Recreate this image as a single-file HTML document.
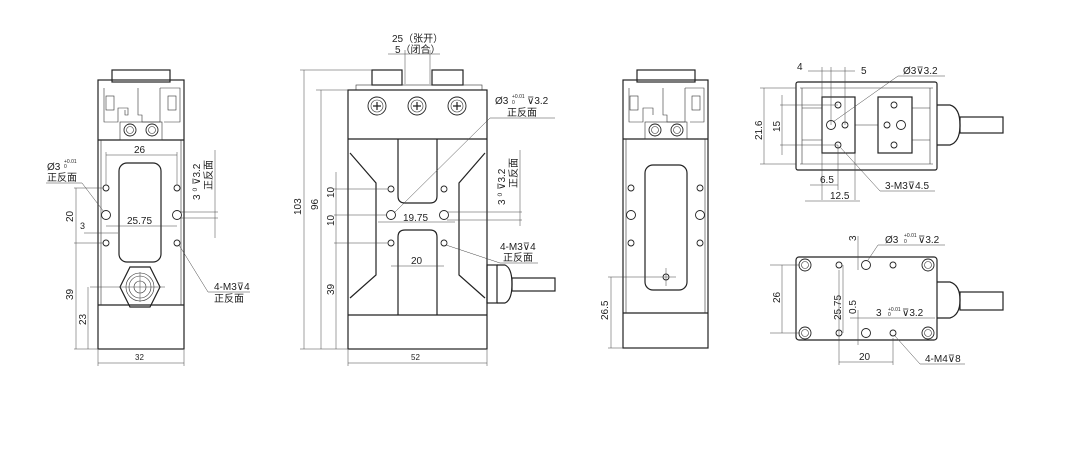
<!DOCTYPE html>
<html><head><meta charset="utf-8"><style>
html,body{margin:0;padding:0;background:#fff}
svg{display:block}
text{font-family:"Liberation Sans","Noto Sans CJK SC",sans-serif;font-size:10px;fill:#222}
.b{fill:none;stroke:#222;stroke-width:1.2}
.t{fill:none;stroke:#333;stroke-width:0.6}
.d{fill:none;stroke:#444;stroke-width:0.5}
.h{fill:#fff;stroke:#222;stroke-width:0.9}
</style></head><body>
<svg width="1068" height="476" viewBox="0 0 1068 476" xmlns="http://www.w3.org/2000/svg">
<rect width="1068" height="476" fill="#fff"/>

<!-- ===== VIEW 1 ===== -->
<g>
<rect class="b" x="112" y="70" width="58" height="12"/>
<rect class="b" x="98" y="80" width="86" height="269"/>
<line class="b" x1="98" y1="140" x2="184" y2="140"/>
<line class="b" x1="98" y1="305" x2="184" y2="305"/>
<line class="t" x1="101" y1="140" x2="101" y2="305"/><line class="t" x1="181" y1="140" x2="181" y2="305"/>
<path class="t" d="M104 88 V122 H118 V108 H128 V115 H125 V110 M138 88 V115 H142 V122 H160 V88 M160 88 H180 V122 H164"/>
<rect class="t" x="106" y="96" width="8" height="14"/><rect class="t" x="168" y="96" width="8" height="14"/>
<rect class="t" x="120" y="122" width="42" height="18"/>
<circle class="h" cx="130" cy="130" r="6"/><circle class="h" cx="152" cy="130" r="6"/>
<circle class="t" cx="130" cy="130" r="3.5"/><circle class="t" cx="152" cy="130" r="3.5"/>
<rect class="b" x="119" y="163" width="42" height="99" rx="8"/>
<circle class="h" cx="106" cy="188" r="3"/><circle class="h" cx="177" cy="188" r="3"/>
<circle class="h" cx="106" cy="215" r="4.5"/><circle class="h" cx="177" cy="215" r="4.5"/>
<circle class="h" cx="106" cy="243" r="3"/><circle class="h" cx="177" cy="243" r="3"/>
<polygon class="b" points="130,267 150,267 160,287 150,307 130,307 120,287"/>
<circle class="t" cx="140" cy="287" r="14"/><circle class="t" cx="140" cy="287" r="11"/>
<circle class="t" cx="140" cy="287" r="6"/>
<line class="d" x1="90" y1="287" x2="165" y2="287"/><line class="d" x1="140" y1="272" x2="140" y2="302"/>
<!-- dims -->
<line class="d" x1="106" y1="155" x2="177" y2="155"/><line class="d" x1="106" y1="152" x2="106" y2="185"/><line class="d" x1="177" y1="152" x2="177" y2="185"/>
<text x="134" y="153">26</text>
<line class="d" x1="106" y1="226" x2="177" y2="226"/><text x="127" y="224">25.75</text>
<text x="80" y="229" style="font-size:9px">3</text><line class="d" x1="84" y1="233" x2="118" y2="233"/>
<line class="d" x1="74" y1="188" x2="104" y2="188"/><line class="d" x1="74" y1="243" x2="104" y2="243"/><line class="d" x1="74" y1="349" x2="98" y2="349"/>
<line class="d" x1="76" y1="188" x2="76" y2="349"/>
<line class="d" x1="88" y1="287" x2="88" y2="349"/>
<text transform="translate(73,222) rotate(-90)">20</text>
<text transform="translate(73,300) rotate(-90)">39</text>
<text transform="translate(86,325) rotate(-90)">23</text>
<line class="d" x1="98" y1="350" x2="98" y2="366"/><line class="d" x1="184" y1="350" x2="184" y2="366"/>
<line class="d" x1="98" y1="363" x2="184" y2="363"/><text x="135" y="360" style="font-size:8px">32</text>
<text x="47" y="170">Ø3</text><text x="64" y="163" style="font-size:5px">+0.01</text><text x="64" y="168" style="font-size:5px">0</text>
<text x="47" y="181">正反面</text><line class="d" x1="46" y1="183" x2="82" y2="183"/><line class="d" x1="82" y1="183" x2="104" y2="212"/>
<line class="d" x1="215" y1="150" x2="215" y2="238"/><line class="d" x1="181" y1="212" x2="218" y2="212"/><line class="d" x1="181" y1="218" x2="218" y2="218"/>
<text transform="translate(200,200) rotate(-90)">3 ⁰ ⊽3.2</text>
<text transform="translate(212,190) rotate(-90)">正反面</text>
<line class="d" x1="179" y1="245" x2="208" y2="292"/><line class="d" x1="208" y1="292" x2="250" y2="292"/>
<text x="214" y="290">4-M3⊽4</text><text x="214" y="302">正反面</text>
</g>

<!-- ===== VIEW 2 ===== -->
<g>
<rect class="b" x="372" y="70" width="30" height="15"/><rect class="b" x="432" y="70" width="31" height="15"/>
<rect class="t" x="356" y="85" width="126" height="5"/>
<rect class="b" x="348" y="90" width="139" height="259"/>
<line class="b" x1="348" y1="139" x2="487" y2="139"/>
<line class="b" x1="348" y1="315" x2="487" y2="315"/>
<g><circle class="h" cx="377" cy="106" r="9"/><circle class="t" cx="377" cy="106" r="6"/><path class="b" d="M373 106h8M377 102v8"/></g>
<g><circle class="h" cx="417" cy="106" r="9"/><circle class="t" cx="417" cy="106" r="6"/><path class="b" d="M413 106h8M417 102v8"/></g>
<g><circle class="h" cx="457" cy="106" r="9"/><circle class="t" cx="457" cy="106" r="6"/><path class="b" d="M453 106h8M457 102v8"/></g>
<polyline class="b" points="350,153 376,183 376,275 350,298"/>
<polyline class="b" points="485,153 459,183 459,275 485,298"/>
<path class="b" d="M398 139 V196 Q398 203 405 203 H430 Q437 203 437 196 V139"/>
<path class="b" d="M398 315 V237 Q398 230 405 230 H430 Q437 230 437 237 V315"/>
<circle class="h" cx="391" cy="189" r="3"/><circle class="h" cx="444" cy="189" r="3"/>
<circle class="h" cx="391" cy="215" r="4.5"/><circle class="h" cx="444" cy="215" r="4.5"/>
<circle class="h" cx="391" cy="243" r="3"/><circle class="h" cx="444" cy="243" r="3"/>
<rect class="b" x="487" y="265" width="10" height="38"/>
<path class="b" d="M497 265 H505 Q512 268 512 284 Q512 300 505 303 H497"/>
<rect class="b" x="512" y="278" width="43" height="13"/>
<!-- dims -->
<text x="392" y="42">25（张开）</text><text x="395" y="53">5（闭合）</text>
<line class="d" x1="388" y1="54" x2="440" y2="54"/><line class="d" x1="405" y1="50" x2="405" y2="84"/><line class="d" x1="430" y1="50" x2="430" y2="84"/>
<line class="d" x1="300" y1="70" x2="372" y2="70"/><line class="d" x1="300" y1="349" x2="348" y2="349"/><line class="d" x1="316" y1="90" x2="348" y2="90"/>
<line class="d" x1="304" y1="70" x2="304" y2="349"/><line class="d" x1="321" y1="90" x2="321" y2="349"/>
<line class="d" x1="336" y1="172" x2="336" y2="349"/>
<text transform="translate(301,215) rotate(-90)">103</text>
<text transform="translate(318,210) rotate(-90)">96</text>
<line class="d" x1="334" y1="189" x2="388" y2="189"/><line class="d" x1="334" y1="215" x2="386" y2="215"/><line class="d" x1="334" y1="243" x2="388" y2="243"/>
<text transform="translate(334,198) rotate(-90)">10</text><text transform="translate(334,226) rotate(-90)">10</text>
<text transform="translate(334,295) rotate(-90)">39</text>
<line class="d" x1="378" y1="222" x2="455" y2="222"/><text x="403" y="221">19.75</text>
<line class="d" x1="391" y1="266" x2="444" y2="266"/><text x="411" y="264">20</text>
<line class="d" x1="348" y1="350" x2="348" y2="366"/><line class="d" x1="487" y1="350" x2="487" y2="366"/>
<line class="d" x1="348" y1="363" x2="487" y2="363"/><text x="411" y="360" style="font-size:8px">52</text>
<text x="495" y="104">Ø3</text><text x="512" y="98" style="font-size:5px">+0.01</text><text x="512" y="104" style="font-size:5px">0</text><text x="527" y="104">⊽3.2</text>
<text x="507" y="116">正反面</text><line class="d" x1="490" y1="118" x2="555" y2="118"/><line class="d" x1="490" y1="118" x2="394" y2="213"/>
<text transform="translate(505,205) rotate(-90)">3 ⁰ ⊽3.2</text>
<text transform="translate(517,188) rotate(-90)">正反面</text>
<line class="d" x1="520" y1="150" x2="520" y2="226"/><line class="d" x1="447" y1="212" x2="522" y2="212"/><line class="d" x1="447" y1="220" x2="522" y2="220"/>
<text x="500" y="250">4-M3⊽4</text><text x="503" y="261">正反面</text><line class="d" x1="500" y1="263" x2="538" y2="263"/><line class="d" x1="446" y1="245" x2="500" y2="263"/>
</g>

<!-- ===== VIEW 3 ===== -->
<g>
<rect class="b" x="637" y="70" width="58" height="12"/>
<rect class="b" x="623" y="80" width="85" height="268"/>
<line class="b" x1="623" y1="139" x2="708" y2="139"/>
<line class="b" x1="623" y1="313" x2="708" y2="313"/>
<line class="t" x1="626" y1="139" x2="626" y2="313"/><line class="t" x1="705" y1="139" x2="705" y2="313"/>
<path class="t" d="M629 88 V122 H643 V108 H653 V115 M663 88 V115 H667 V122 H685 V88 M685 88 H704 V122 H690"/>
<rect class="t" x="630" y="96" width="8" height="14"/><rect class="t" x="692" y="96" width="8" height="14"/>
<rect class="t" x="645" y="122" width="42" height="17"/>
<circle class="h" cx="655" cy="130" r="6"/><circle class="h" cx="677" cy="130" r="6"/>
<circle class="t" cx="655" cy="130" r="3.5"/><circle class="t" cx="677" cy="130" r="3.5"/>
<rect class="b" x="645" y="165" width="42" height="125" rx="8"/>
<circle class="h" cx="631" cy="188" r="3"/><circle class="h" cx="700" cy="188" r="3"/>
<circle class="h" cx="631" cy="215" r="4.5"/><circle class="h" cx="700" cy="215" r="4.5"/>
<circle class="h" cx="631" cy="243" r="3"/><circle class="h" cx="700" cy="243" r="3"/>
<circle class="h" cx="666" cy="277" r="3"/>
<line class="d" x1="608" y1="277" x2="676" y2="277"/><line class="d" x1="666" y1="268" x2="666" y2="286"/>
<line class="d" x1="608" y1="348" x2="623" y2="348"/><line class="d" x1="611" y1="277" x2="611" y2="348"/>
<text transform="translate(608,320) rotate(-90)">26.5</text>
</g>

<!-- ===== VIEW 4 TOP ===== -->
<g>
<rect class="b" x="796" y="82" width="141" height="88" rx="2"/>
<line class="t" x1="800" y1="88" x2="933" y2="88"/><line class="t" x1="800" y1="164" x2="933" y2="164"/>
<line class="t" x1="802" y1="88" x2="802" y2="164"/><line class="t" x1="930" y1="88" x2="930" y2="164"/>
<path class="t" d="M802 108 H822 M802 140 H822 M855 125 H878 M912 108 H930 M912 140 H930"/>
<rect class="b" x="822" y="97" width="33" height="56"/>
<rect class="b" x="878" y="97" width="34" height="56"/>
<circle class="h" cx="838" cy="105" r="3"/><circle class="h" cx="831" cy="125" r="4.5"/><circle class="h" cx="845" cy="125" r="3"/><circle class="h" cx="838" cy="145" r="3"/>
<circle class="h" cx="894" cy="105" r="3"/><circle class="h" cx="887" cy="125" r="3"/><circle class="h" cx="901" cy="125" r="4.5"/><circle class="h" cx="894" cy="145" r="3"/>
<path class="b" d="M937 105 H950 Q960 108 960 125 Q960 142 950 145 H937"/>
<rect class="b" x="960" y="117" width="43" height="16"/>
<!-- dims -->
<text x="797" y="70">4</text><text x="861" y="74">5</text>
<line class="d" x1="808" y1="71" x2="855" y2="71"/>
<line class="d" x1="822" y1="67" x2="822" y2="200"/><line class="d" x1="831" y1="67" x2="831" y2="125"/><line class="d" x1="845" y1="67" x2="845" y2="125"/>
<line class="d" x1="855" y1="153" x2="855" y2="200"/>
<line class="d" x1="760" y1="88" x2="796" y2="88"/><line class="d" x1="760" y1="164" x2="796" y2="164"/>
<line class="d" x1="764" y1="88" x2="764" y2="164"/>
<line class="d" x1="780" y1="105" x2="838" y2="105"/><line class="d" x1="780" y1="145" x2="838" y2="145"/>
<line class="d" x1="782" y1="95" x2="782" y2="155"/>
<text transform="translate(762,140) rotate(-90)">21.6</text>
<text transform="translate(780,132) rotate(-90)">15</text>
<line class="d" x1="810" y1="185" x2="838" y2="185"/><text x="820" y="183">6.5</text>
<line class="d" x1="838" y1="145" x2="838" y2="190"/>
<line class="d" x1="805" y1="201" x2="860" y2="201"/><text x="830" y="199">12.5</text>
<text x="903" y="74">Ø3⊽3.2</text><line class="d" x1="898" y1="76" x2="945" y2="76"/><line class="d" x1="898" y1="76" x2="833" y2="122"/>
<text x="885" y="189">3-M3⊽4.5</text><line class="d" x1="880" y1="191" x2="935" y2="191"/><line class="d" x1="880" y1="191" x2="840" y2="147"/>
</g>

<!-- ===== VIEW 4 BOTTOM ===== -->
<g>
<rect class="b" x="796" y="257" width="141" height="83" rx="3"/>
<g><circle class="h" cx="805" cy="265" r="6"/><circle class="t" cx="805" cy="265" r="3.5"/></g>
<g><circle class="h" cx="928" cy="265" r="6"/><circle class="t" cx="928" cy="265" r="3.5"/></g>
<g><circle class="h" cx="805" cy="333" r="6"/><circle class="t" cx="805" cy="333" r="3.5"/></g>
<g><circle class="h" cx="928" cy="333" r="6"/><circle class="t" cx="928" cy="333" r="3.5"/></g>
<circle class="h" cx="839" cy="265" r="3"/><circle class="h" cx="866" cy="265" r="4.5"/><circle class="h" cx="893" cy="265" r="3"/>
<circle class="h" cx="839" cy="333" r="3"/><circle class="h" cx="866" cy="333" r="4.5"/><circle class="h" cx="893" cy="333" r="3"/>
<path class="b" d="M937 282 H950 Q960 285 960 300 Q960 315 950 318 H937"/>
<rect class="b" x="960" y="292" width="43" height="18"/>
<line class="d" x1="770" y1="265" x2="800" y2="265"/><line class="d" x1="770" y1="333" x2="800" y2="333"/>
<line class="d" x1="782" y1="265" x2="782" y2="333"/>
<text transform="translate(780,303) rotate(-90)">26</text>
<line class="d" x1="839" y1="270" x2="839" y2="365"/><line class="d" x1="893" y1="338" x2="893" y2="365"/>
<line class="d" x1="839" y1="362" x2="893" y2="362"/><text x="859" y="360">20</text>
<line class="d" x1="843" y1="265" x2="843" y2="333"/>
<text transform="translate(841,320) rotate(-90)">25.75</text>
<line class="d" x1="858" y1="236" x2="858" y2="270"/><text transform="translate(856,241) rotate(-90)">3</text>
<line class="d" x1="858" y1="310" x2="858" y2="345"/><text transform="translate(856,314) rotate(-90)">0.5</text>
<line class="d" x1="850" y1="318" x2="935" y2="318"/><text x="876" y="316">3</text><text x="888" y="311" style="font-size:5px">+0.01</text><text x="888" y="316" style="font-size:5px">0</text><text x="902" y="316">⊽3.2</text>
<text x="885" y="243">Ø3</text><text x="904" y="237" style="font-size:5px">+0.01</text><text x="904" y="243" style="font-size:5px">0</text><text x="918" y="243">⊽3.2</text>
<line class="d" x1="878" y1="245" x2="945" y2="245"/><line class="d" x1="878" y1="245" x2="868" y2="260"/>
<text x="925" y="362">4-M4⊽8</text><line class="d" x1="920" y1="364" x2="965" y2="364"/><line class="d" x1="920" y1="364" x2="895" y2="336"/>
</g>
</svg>
</body></html>
